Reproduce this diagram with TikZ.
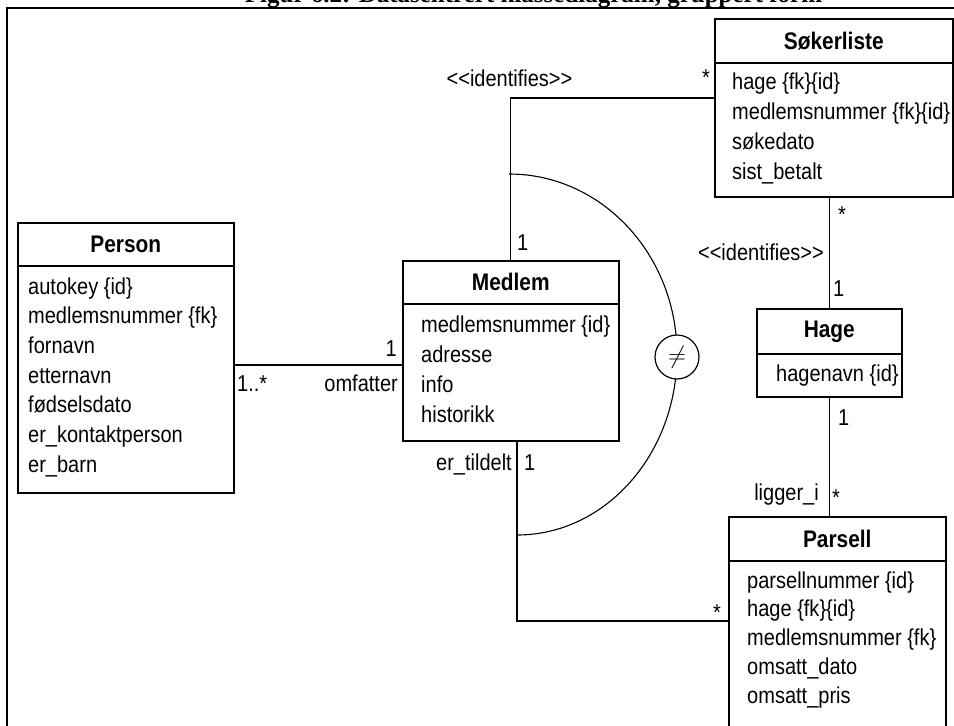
\documentclass[tikz,border=0pt]{standalone}
\usepackage{fontspec}
\setmainfont{Liberation Sans}
\newfontfamily\umlfont[FakeStretch=0.87]{Liberation Sans}
\newfontfamily\capfont{Liberation Serif}
\usetikzlibrary{calc}

\begin{document}
\begin{tikzpicture}[x=1pt,y=-1pt,
  box/.style={draw, line width=1.6pt, rectangle, inner sep=0pt, anchor=north west},
  ctitle/.style={box, font=\umlfont\bfseries\fontsize{24}{24}\selectfont},
  attr/.style={font=\umlfont\fontsize{23}{23}\selectfont, inner sep=0pt, anchor=base west},
  lbl/.style={font=\umlfont\fontsize{23}{23}\selectfont, inner sep=0pt},
  link/.style={line width=1.3pt},
  constraint/.style={line width=1.1pt},
]
\useasboundingbox (0,0) rectangle (954,726);

% caption and frame
\node[font=\capfont\bfseries\fontsize{25}{25}\selectfont, anchor=base, inner sep=0pt] (caption)
  at (533.5,2) {Figur 6.2: Datasentrert klassediagram, gruppert form};
\draw[line width=1.3pt] (7,726) -- (7,8) -- (954,8);

% ---- Person ----
\node[ctitle, minimum width=216, minimum height=43] (person) at (17,222) {Person};
\node[box, minimum width=216, minimum height=227] (personbody) at (17,265) {};
\foreach \t [count=\i] in {autokey \{id\}, medlemsnummer \{fk\}, fornavn, etternavn,
    fødselsdato, er\_kontaktperson, er\_barn}
  \node[attr] (pa\i) at (28,{294+29.7*(\i-1)}) {\t};

% ---- Medlem ----
\node[ctitle, minimum width=216, minimum height=43] (medlem) at (402,260) {Medlem};
\node[box, minimum width=216, minimum height=137] (medlembody) at (402,303) {};
\foreach \t [count=\i] in {medlemsnummer \{id\}, adresse, info, historikk}
  \node[attr] (ma\i) at (421,{332+30*(\i-1)}) {\t};

% ---- Søkerliste ----
\node[ctitle, minimum width=238, minimum height=44] (soker) at (714,18) {Søkerliste};
\node[box, minimum width=238, minimum height=134] (sokerbody) at (714,62) {};
\foreach \t [count=\i] in {hage \{fk\}\{id\}, medlemsnummer \{fk\}\{id\}, søkedato, sist\_betalt}
  \node[attr] (sa\i) at (732,{89+30*(\i-1)}) {\t};

% ---- Hage ----
\node[ctitle, minimum width=145, minimum height=45] (hage) at (756,308) {Hage};
\node[box, minimum width=145, minimum height=43] (hagebody) at (756,353) {};
\node[attr] (ha1) at (776,381) {hagenavn \{id\}};

% ---- Parsell ----
\node[ctitle, minimum width=217, minimum height=44] (parsell) at (728,516) {Parsell};
\node[box, minimum width=217, minimum height=200] (parsellbody) at (728,560) {};
\foreach \t [count=\i] in {parsellnummer \{id\}, hage \{fk\}\{id\}, medlemsnummer \{fk\},
    omsatt\_dato, omsatt\_pris}
  \node[attr] (qa\i) at (747,{588+28.75*(\i-1)}) {\t};

% ---- associations ----
\coordinate (yPM) at (0,365);
\draw[link] (personbody.east |- yPM) -- (medlembody.west |- yPM);
\node[lbl, anchor=base west] (m1) at (237,391) {1..*};
\node[lbl, anchor=base east] (m2) at (398,391) {omfatter};
\node[lbl, anchor=base east] (m3) at (397,356) {1};

\coordinate (ySM) at (0,98);
\draw[link] (medlem.north) |- (sokerbody.west |- ySM);
\node[lbl, anchor=base] (m4) at (509.5,86) {<<identifies>>};
\node[lbl, anchor=base] (m5) at (706,85) {*};
\node[lbl, anchor=base west] (m6) at (517,250) {1};

\draw[link] (sokerbody.south -| hage.north) -- (hage.north);
\node[lbl, anchor=base] (m7) at (842,222) {*};
\node[lbl, anchor=base east] (m8) at (824,260) {<<identifies>>};
\node[lbl, anchor=base west] (m9) at (833,296) {1};

\draw[link] (hagebody.south) -- (hagebody.south |- parsell.north);
\node[lbl, anchor=base west] (m10) at (838,425) {1};
\node[lbl, anchor=base east] (m11) at (819,500) {ligger\_i};
\node[lbl, anchor=base] (m12) at (836,505) {*};

\coordinate (xMP) at (517,0);
\coordinate (yMP) at (0,621);
\draw[link] (medlembody.south -| xMP) |- (parsellbody.west |- yMP);
\node[lbl, anchor=base east] (m13) at (512,470) {er\_tildelt};
\node[lbl, anchor=base west] (m14) at (524,470) {1};
\node[lbl, anchor=base] (m15) at (717,620) {*};

% ---- xor-style constraint between the two Medlem links ----
\coordinate (arcTop) at (509,174);
\coordinate (arcBot) at (517,535);
\draw[constraint] (arcTop) arc[start angle=90, end angle=0, x radius=168pt, y radius=180.5pt];
\draw[constraint] (arcBot) arc[start angle=270, end angle=360, x radius=160pt, y radius=180.5pt];
\node[draw, circle, fill=white, line width=1.2pt, minimum size=44, inner sep=0pt,
  font=\fontsize{24}{24}\selectfont] (neq) at (677,357) {$\neq$};
\end{tikzpicture}
\end{document}
